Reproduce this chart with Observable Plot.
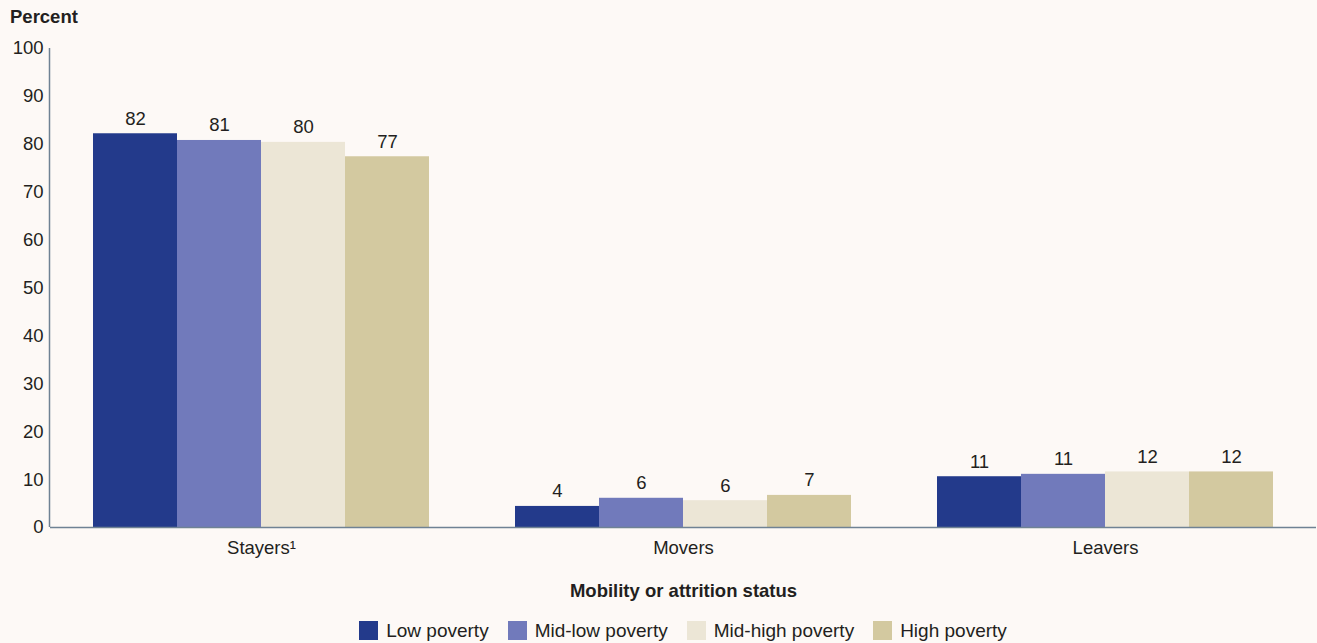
<!DOCTYPE html>
<html>
<head>
<meta charset="utf-8">
<script src="https://cdn.jsdelivr.net/npm/d3@7"></script>
<script src="https://cdn.jsdelivr.net/npm/@observablehq/plot@0.6"></script>
<style>
  html, body { margin: 0; padding: 0; background: #fdf9f6; }
  body { width: 1317px; height: 643px; overflow: hidden; font-family: "Liberation Sans", Arial, sans-serif; color: #231f20; }
  #ytitle { height: 30px; box-sizing: border-box; padding: 7px 0 0 10px; font-weight: bold; font-size: 18.5px; line-height: 20px; }
  #chart svg { display: block; }
  #chart g[aria-label="fx-axis label"] text { font-weight: bold; font-size: 18.5px; }
  #legend { display: flex; justify-content: center; padding-left: 49px; margin-top: 16px; font-size: 19px; line-height: 19px; }
  #legend .item { display: flex; align-items: center; margin: 0 9.5px; }
  #legend .sw { width: 19px; height: 19px; margin-right: 8px; }
</style>
</head>
<body>
<div id="ytitle">Percent</div>
<div id="chart"></div>
<div id="legend"></div>
<script>
// Teacher mobility or attrition status by school poverty level (percent)
const statuses = ["Stayers¹", "Movers", "Leavers"];
const groups = ["Low poverty", "Mid-low poverty", "Mid-high poverty", "High poverty"];
const colors = ["#233a8b", "#717abb", "#ece6d6", "#d3c9a0"];
const stayers = [82.2, 80.8, 80.4, 77.4];
const movers = [4.4, 6.1, 5.6, 6.7];
const leavers = [10.6, 11.1, 11.6, 11.6];
const yTicks = [0, 10, 20, 30, 40, 50, 60, 70, 80, 90, 100];

const seriesByStatus = [stayers, movers, leavers];
const data = statuses.flatMap((status, i) =>
  groups.map((group, j) => ({status, group, value: seriesByStatus[i][j]}))
);

const plot = Plot.plot({
  width: 1317,
  height: 575,
  marginTop: 18,
  marginBottom: 78,
  marginLeft: 49,
  marginRight: 0,
  style: {background: "transparent", fontSize: "18.5px", fontFamily: "'Liberation Sans', Arial, sans-serif", color: "#231f20"},
  fx: {
    domain: statuses,
    padding: 0,
    label: "Mobility or attrition status",
    labelAnchor: "center",
    labelOffset: 69,
    tickSize: 0,
    tickPadding: 13
  },
  x: {domain: groups, paddingInner: 0, paddingOuter: 0.5, axis: null},
  y: {domain: [0, 100], ticks: yTicks, tickSize: 0, tickPadding: 7, label: null, tickFormat: d => d},
  color: {domain: groups, range: colors},
  marks: [
    Plot.barY(data, {fx: "status", x: "group", y: "value", fill: "group"}),
    Plot.text(data, {
      fx: "status", x: "group", y: "value",
      text: d => Math.round(d.value),
      lineAnchor: "bottom", dy: -9,
      fill: "#231f20", fontSize: 18.5
    }),
    Plot.ruleY([0], {stroke: "#6f8294", strokeWidth: 1.5})
  ]
});

// vertical axis line along the left edge of the frame
const ys = plot.scale("y");
d3.select(plot).append("line")
  .attr("x1", 49.5).attr("x2", 49.5)
  .attr("y1", ys.apply(100)).attr("y2", ys.apply(0))
  .attr("stroke", "#6f8294").attr("stroke-width", 1.5);

document.getElementById("chart").append(plot);

const legend = d3.select("#legend");
groups.forEach((g, i) => {
  const item = legend.append("div").attr("class", "item");
  item.append("div").attr("class", "sw").style("background", colors[i]);
  item.append("span").text(g);
});
</script>
</body>
</html>
